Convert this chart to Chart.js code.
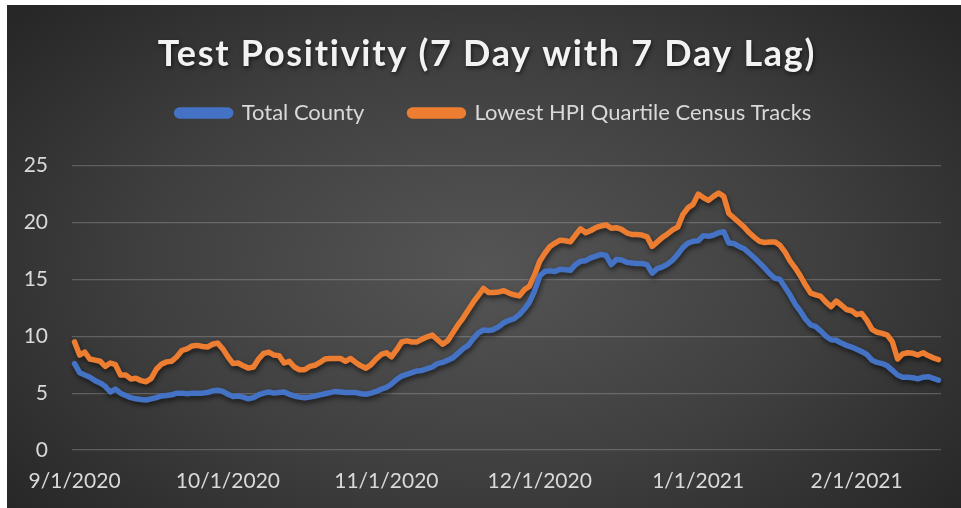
<!DOCTYPE html>
<html>
<head>
<meta charset="utf-8">
<script src="https://cdn.jsdelivr.net/npm/chart.js@4.4.1/dist/chart.umd.min.js"></script>
<style>
  html, body { margin: 0; padding: 0; background: #ffffff; }
  #wrap {
    position: absolute; left: 7px; top: 5px; width: 954px; height: 503px;
    background: radial-gradient(ellipse 65% 75% at 50% 52%, #555555 0%, #3f3f3f 55%, #272727 100%);
  }
  canvas { display: block; }
</style>
</head>
<body>
<div id="wrap"><canvas id="c" width="954" height="503"></canvas></div>
<script>
const titleText = 'Test Positivity (7 Day with 7 Day Lag)';
const seriesNames = ['Total County', 'Lowest HPI Quartile Census Tracks'];
const startDate = [2020, 9, 1];
const dayCount = 170;
const tickLabels = ['9/1/2020', '10/1/2020', '11/1/2020', '12/1/2020', '1/1/2021', '2/1/2021'];
const yTicks = [0, 5, 10, 15, 20, 25];

const totalCounty = [
  7.6, 6.8, 6.6, 6.4, 6.1, 5.9, 5.6, 5.1, 5.35, 5.0,
  4.8, 4.6, 4.5, 4.45, 4.4, 4.5, 4.6, 4.75, 4.8, 4.85,
  5.0, 5.0, 4.95, 5.0, 5.0, 5.0, 5.05, 5.2, 5.25, 5.15,
  4.9, 4.7, 4.75, 4.65, 4.5, 4.6, 4.85, 5.0, 5.1, 5.0,
  5.05, 5.1, 4.9, 4.75, 4.65, 4.6, 4.65, 4.75, 4.85, 4.95,
  5.05, 5.15, 5.1, 5.05, 5.05, 5.05, 4.95, 4.9, 5.0, 5.15,
  5.35, 5.5, 5.8, 6.2, 6.5, 6.65, 6.8, 6.95, 7.0, 7.15,
  7.3, 7.6, 7.7, 7.9, 8.1, 8.5, 8.9, 9.2, 9.8, 10.3,
  10.55, 10.5, 10.6, 10.85, 11.2, 11.4, 11.55, 11.9, 12.4, 13.0,
  14.0, 15.3, 15.7, 15.75, 15.7, 15.9, 15.85, 15.8, 16.3, 16.6,
  16.65, 16.9, 17.05, 17.2, 17.1, 16.3, 16.75, 16.7, 16.5, 16.45,
  16.4, 16.4, 16.3, 15.55, 15.95, 16.1, 16.35, 16.7, 17.2, 17.8,
  18.2, 18.35, 18.4, 18.85, 18.8, 18.9, 19.1, 19.2, 18.2, 18.15,
  17.9, 17.7, 17.3, 16.9, 16.45, 16.0, 15.5, 15.1, 15.0, 14.3,
  13.6, 12.8, 12.2, 11.5, 11.0, 10.85, 10.45, 10.0, 9.7, 9.65,
  9.4, 9.2, 9.05, 8.85, 8.65, 8.4, 7.9, 7.7, 7.6, 7.4,
  7.0, 6.6, 6.4, 6.4, 6.35, 6.25, 6.4, 6.45, 6.3, 6.15
];

const lowestHpi = [
  9.5, 8.35, 8.6, 8.0, 7.9, 7.8, 7.35, 7.65, 7.5, 6.6,
  6.6, 6.25, 6.3, 6.1, 6.0, 6.3, 7.1, 7.55, 7.75, 7.8,
  8.2, 8.75, 8.9, 9.15, 9.2, 9.1, 9.05, 9.3, 9.4, 8.9,
  8.2, 7.6, 7.65, 7.4, 7.2, 7.3, 8.0, 8.5, 8.6, 8.35,
  8.3, 7.65, 7.8, 7.3, 7.05, 7.05, 7.35, 7.45, 7.7, 8.0,
  8.05, 8.05, 8.05, 7.8, 8.05, 7.7, 7.4, 7.2, 7.5, 8.0,
  8.4, 8.55, 8.2, 8.8, 9.5, 9.6, 9.5, 9.5, 9.75, 9.95,
  10.1, 9.7, 9.3, 9.6, 10.3, 11.0, 11.6, 12.3, 13.0, 13.6,
  14.2, 13.85, 13.85, 13.9, 14.0, 13.8, 13.65, 13.55, 14.1, 14.4,
  15.4, 16.6, 17.3, 17.9, 18.2, 18.45, 18.4, 18.3, 18.9, 19.45,
  19.1, 19.3, 19.55, 19.7, 19.8, 19.5, 19.55, 19.4, 19.1, 18.95,
  18.95, 18.9, 18.75, 17.9, 18.3, 18.7, 19.0, 19.35, 19.6, 20.7,
  21.3, 21.6, 22.5, 22.2, 21.95, 22.3, 22.6, 22.3, 20.8, 20.4,
  20.0, 19.6, 19.1, 18.7, 18.35, 18.25, 18.3, 18.3, 18.0, 17.4,
  16.6, 16.0, 15.3, 14.5, 13.8, 13.65, 13.5, 13.0, 12.6, 13.1,
  12.75, 12.35, 12.25, 11.9, 12.0, 11.4, 10.6, 10.35, 10.25, 10.1,
  9.5, 8.0, 8.45, 8.55, 8.5, 8.35, 8.55, 8.3, 8.1, 7.95
];

// daily category labels (M/D/YYYY)
const categories = [];
{
  const d = new Date(startDate[0], startDate[1] - 1, startDate[2]);
  for (let i = 0; i < dayCount; i++) {
    categories.push((d.getMonth() + 1) + '/' + d.getDate() + '/' + d.getFullYear());
    d.setDate(d.getDate() + 1);
  }
}

const textColor = '#d9d9d9';
const fontFamily = "Lato, 'Open Sans', 'Liberation Sans', sans-serif";

const lineShadow = {
  id: 'lineShadow',
  beforeDatasetsDraw(chart) {
    const ctx = chart.ctx;
    ctx.save();
    ctx.shadowColor = 'rgba(0,0,0,0.55)';
    ctx.shadowBlur = 5;
    ctx.shadowOffsetX = 1;
    ctx.shadowOffsetY = 3;
  },
  afterDatasetsDraw(chart) { chart.ctx.restore(); }
};

const boxTweaks = {
  id: 'boxTweaks',
  beforeUpdate(chart) {
    const lg = chart.legend;
    if (lg && !lg._gapWrapped) {
      const orig = lg.fit;
      lg.fit = function () { orig.call(this); this.height += 31.7; };
      const origLgDraw = lg.draw;
      lg.draw = function () {
        const ctx = this.ctx;
        ctx.save();
        ctx.translate(20, 0);
        origLgDraw.apply(this, arguments);
        ctx.restore();
      };
      lg._gapWrapped = true;
    }
    const tb = chart.titleBlock;
    if (tb && !tb._styleWrapped) {
      const origDraw = tb.draw;
      tb.draw = function () {
        const ctx = this.ctx;
        ctx.save();
        ctx.translate(13, 2);
        ctx.letterSpacing = '1.7px';
        ctx.shadowColor = 'rgba(0,0,0,0.6)';
        ctx.shadowBlur = 4;
        ctx.shadowOffsetX = 1;
        ctx.shadowOffsetY = 2;
        origDraw.apply(this, arguments);
        ctx.restore();
      };
      tb._styleWrapped = true;
    }
  }
};

new Chart(document.getElementById('c'), {
  type: 'line',
  data: {
    labels: categories,
    datasets: [
      { label: seriesNames[0], data: totalCounty, borderColor: '#4472C4', backgroundColor: '#4472C4',
        borderWidth: 5.5, pointRadius: 0, tension: 0, borderJoinStyle: 'round', borderCapStyle: 'round' },
      { label: seriesNames[1], data: lowestHpi, borderColor: '#ED7D31', backgroundColor: '#ED7D31',
        borderWidth: 5.5, pointRadius: 0, tension: 0, borderJoinStyle: 'round', borderCapStyle: 'round' }
    ]
  },
  options: {
    responsive: false,
    animation: false,
    events: [],
    layout: { padding: { left: 0, right: 20, top: 0, bottom: 0 } },
    plugins: {
      title: {
        display: true, text: titleText, color: '#f2f2f2',
        font: { family: fontFamily, size: 36, weight: 'bold' },
        padding: { top: 25.4, bottom: -16.6 }
      },
      legend: {
        display: true, position: 'top',
        labels: {
          color: textColor, boxWidth: 54, boxHeight: 6, useBorderRadius: true, borderRadius: 3,
          padding: 45, font: { family: fontFamily, size: 22 }
        }
      },
      tooltip: { enabled: false }
    },
    scales: {
      x: {
        type: 'category',
        offset: true,
        grid: { display: false, drawTicks: false },
        border: { display: false },
        ticks: {
          autoSkip: false, maxRotation: 0, minRotation: 0, padding: 19,
          color: textColor, font: { family: fontFamily, size: 21 },
          callback: function (v, i) { const l = categories[i]; return tickLabels.includes(l) ? l : null; }
        },
        afterFit(s) { s.height = 58; }
      },
      y: {
        min: 0, max: 25,
        grid: { color: 'rgba(200,200,200,0.28)', lineWidth: 1.2, drawTicks: false },
        border: { display: false },
        ticks: {
          stepSize: 5, padding: 24, color: textColor, font: { family: fontFamily, size: 21 },
          callback: function (v) { return yTicks.includes(v) ? String(v) : null; }
        },
        afterFit(s) { s.width = 65; }
      }
    }
  },
  plugins: [lineShadow, boxTweaks]
});
</script>
</body>
</html>
